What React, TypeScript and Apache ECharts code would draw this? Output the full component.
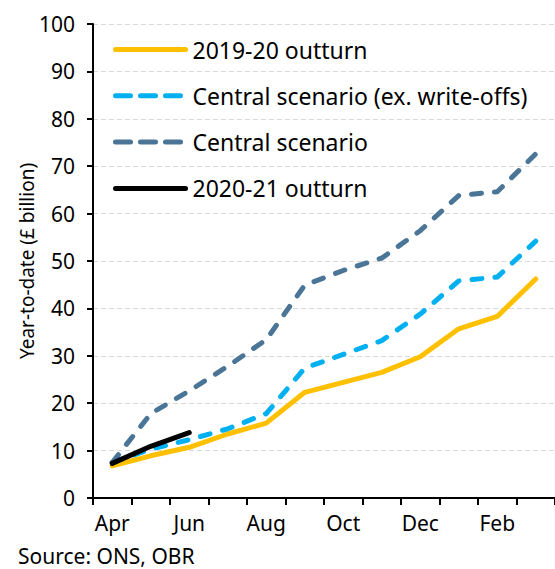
import React, { useEffect, useRef } from "react";
import * as echarts from "echarts";

const months = ["Apr", "May", "Jun", "Jul", "Aug", "Sep", "Oct", "Nov", "Dec", "Jan", "Feb", "Mar"];
const outturn1920 = [6.8, 8.9, 10.7, 13.5, 15.8, 22.3, 24.4, 26.5, 29.8, 35.7, 38.3, 46.2];
const centralExWriteOffs = [7.5, 10.3, 12.3, 14.6, 17.8, 27.4, 30.3, 33.2, 38.8, 45.8, 46.6, 54.2];
const centralScenario = [7.5, 17.8, 22.6, 27.8, 33.4, 44.9, 48.0, 50.6, 56.4, 63.8, 64.6, 72.6];
const outturn2021 = [7.3, 10.9, 13.8, null, null, null, null, null, null, null, null, null];

const seriesNames = [
  "2019-20 outturn",
  "Central scenario (ex. write-offs)",
  "Central scenario",
  "2020-21 outturn",
];

const FONT = "'Noto Sans', sans-serif";

export default function App() {
  const ref = useRef<HTMLDivElement>(null);
  useEffect(() => {
    if (!ref.current) return;
    const chart = echarts.init(ref.current, undefined, { renderer: "svg" });
    const dashChart = [10, 13];
    const dashLegend = [15, 10];
    const colors = ["#FFC000", "#00B0F0", "#4A7596", "#000000"];
    const types: any[] = ["solid", dashChart, dashChart, "solid"];
    const datas = [outturn1920, centralExWriteOffs, centralScenario, outturn2021];
    chart.setOption({
      animation: false,
      textStyle: { fontFamily: FONT },
      grid: { left: 93, top: 24, right: -8, bottom: 71, containLabel: false },
      legend: {
        orient: "vertical",
        left: 113,
        top: 38,
        padding: 0,
        itemWidth: 70,
        itemHeight: 24,
        itemGap: 23.3,
        textStyle: { fontSize: 23, lineHeight: 23, color: "#000", fontFamily: FONT, padding: [0, 0, 0, 2] },
        lineStyle: { width: 5, cap: "round" },
        data: seriesNames.map((n, i) => ({
          name: n,
          itemStyle: { opacity: 0 },
          lineStyle: {
            width: 5,
            color: colors[i],
            type: i === 1 || i === 2 ? dashLegend : "solid",
            cap: "round",
          },
        })),
      },
      xAxis: {
        type: "category",
        data: months,
        boundaryGap: true,
        axisLine: { lineStyle: { color: "#000", width: 2 } },
        axisTick: { show: true, interval: 0, length: 7, lineStyle: { color: "#000", width: 2 } },
        axisLabel: { interval: 1, color: "#000", fontSize: 21, margin: 14, fontFamily: FONT },
        splitLine: { show: false },
      },
      yAxis: {
        type: "value",
        min: 0,
        max: 100,
        interval: 10,
        name: "Year-to-date (£ billion)",
        nameLocation: "middle",
        nameGap: 57,
        nameMoveOverlap: false,
        nameTextStyle: { fontSize: 19, color: "#000", fontFamily: FONT },
        axisLine: { show: true, lineStyle: { color: "#000", width: 2 } },
        axisTick: { show: true, length: 6, lineStyle: { color: "#000", width: 2 } },
        axisLabel: { color: "#000", fontSize: 21, margin: 18, fontFamily: FONT },
        splitLine: { show: true, lineStyle: { color: "#d9d9d9", width: 1, type: [5, 3] } },
      },
      series: seriesNames.map((n, i) => ({
        name: n,
        type: "line",
        data: datas[i],
        symbol: "none",
        smooth: false,
        connectNulls: false,
        z: 2 + i,
        itemStyle: { color: colors[i] },
        lineStyle: { color: colors[i], width: 5, type: types[i], cap: "round", join: "round" },
      })),
      graphic: [
        {
          type: "text",
          left: 18,
          top: 545,
          style: {
            text: "Source: ONS, OBR",
            fontSize: 21,
            lineHeight: 22,
            fill: "#000",
            fontFamily: FONT,
          },
        },
      ],
    });
    return () => chart.dispose();
  }, []);
  return (
    <div
      ref={ref}
      style={{ position: "fixed", left: 0, top: 0, width: 555, height: 569, background: "#fff" }}
    />
  );
}
